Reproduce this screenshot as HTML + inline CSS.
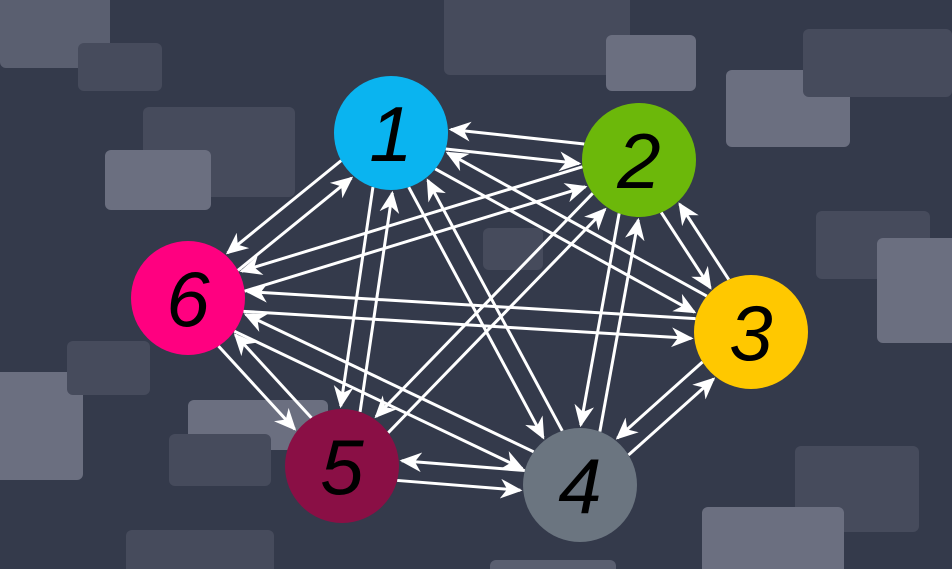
<!DOCTYPE html>
<html><head><meta charset="utf-8"><style>
html,body{margin:0;padding:0;width:952px;height:569px;overflow:hidden;background:#343a4b}
svg{display:block}
</style></head><body>
<svg id="s" width="952" height="569" xmlns="http://www.w3.org/2000/svg">
<defs>
<marker id="a" viewBox="0 0 20 20" refX="18" refY="10" markerWidth="22" markerHeight="22" markerUnits="userSpaceOnUse" orient="auto">
<path d="M0,1 L20,10 L0,19 L6,10 Z" fill="#fff"/>
</marker>
</defs>
<g>
<rect x="0" y="-10" width="110" height="78" rx="6" fill="#5a5f70"/>
<rect x="78" y="43" width="84" height="48" rx="6" fill="#464b5c"/>
<rect x="143" y="107" width="152" height="90" rx="6" fill="#464b5c"/>
<rect x="105" y="150" width="106" height="60" rx="6" fill="#6b6f80"/>
<rect x="444" y="-10" width="186" height="85" rx="6" fill="#464b5c"/>
<rect x="606" y="35" width="90" height="56" rx="6" fill="#6b6f80"/>
<rect x="726" y="70" width="124" height="77" rx="6" fill="#6b6f80"/>
<rect x="803" y="29" width="149" height="68" rx="6" fill="#464b5c"/>
<rect x="816" y="211" width="114" height="68" rx="6" fill="#464b5c"/>
<rect x="877" y="238" width="85" height="105" rx="6" fill="#6b6f80"/>
<rect x="483" y="228" width="60" height="42" rx="6" fill="#464b5c"/>
<rect x="-10" y="372" width="93" height="108" rx="6" fill="#6b6f80"/>
<rect x="67" y="341" width="83" height="54" rx="6" fill="#464b5c"/>
<rect x="188" y="400" width="140" height="50" rx="6" fill="#6b6f80"/>
<rect x="169" y="434" width="102" height="52" rx="6" fill="#464b5c"/>
<rect x="795" y="446" width="124" height="86" rx="6" fill="#464b5c"/>
<rect x="702" y="507" width="142" height="72" rx="6" fill="#6b6f80"/>
<rect x="126" y="530" width="148" height="49" rx="6" fill="#464b5c"/>
<rect x="490" y="560" width="126" height="19" rx="6" fill="#5a5f70"/>
</g>
<g id="L" stroke="#fff" stroke-width="3" fill="none"></g>
<g id="N" font-family="Liberation Sans, sans-serif" font-size="78" text-anchor="middle"></g>
</svg>
<script>
var n=[[391,133,"#0ab4f0","1"],[639,160,"#6cb80a","2"],[751,332,"#ffc800","3"],[580,485,"#6b7580","4"],[342,466,"#8a0f45","5"],[188,298,"#ff0080","6"]];
var R=57,L=document.getElementById('L'),N=document.getElementById('N'),ns="http://www.w3.org/2000/svg";
for(var i=0;i<6;i++)for(var j=i+1;j<6;j++){
 if(i==2&&j==4)continue;
 var a=n[i],b=n[j],dx=b[0]-a[0],dy=b[1]-a[1],d=Math.hypot(dx,dy),ux=dx/d,uy=dy/d,px=-uy,py=ux;
 [[10,1],[-10,-1]].forEach(function(o){
  var off=o[0],sx=a[0]+px*off,sy=a[1]+py*off,ex=b[0]+px*off,ey=b[1]+py*off;
  var t=Math.sqrt(R*R-off*off);
  var x1=sx+ux*t,y1=sy+uy*t,x2=ex-ux*(t+3),y2=ey-uy*(t+3);
  if(o[1]<0){x1=sx+ux*(t+3);y1=sy+uy*(t+3);x2=ex-ux*t;y2=ey-uy*t;}
  var l=document.createElementNS(ns,'line');
  if(o[1]<0){var q=x1;x1=x2;x2=q;q=y1;y1=y2;y2=q;}
  l.setAttribute('x1',x1);l.setAttribute('y1',y1);l.setAttribute('x2',x2);l.setAttribute('y2',y2);
  l.setAttribute('marker-end','url(#a)');L.appendChild(l);
 });
}
n.forEach(function(c){
 var e=document.createElementNS(ns,'circle');e.setAttribute('cx',c[0]);e.setAttribute('cy',c[1]);e.setAttribute('r',R);e.setAttribute('fill',c[2]);N.appendChild(e);
 var t=document.createElementNS(ns,'text');t.setAttribute('x',c[0]);t.setAttribute('y',c[1]+28);t.setAttribute('fill','#000');t.setAttribute('font-style','italic');t.textContent=c[3];N.appendChild(t);
});
</script>
</body></html>
